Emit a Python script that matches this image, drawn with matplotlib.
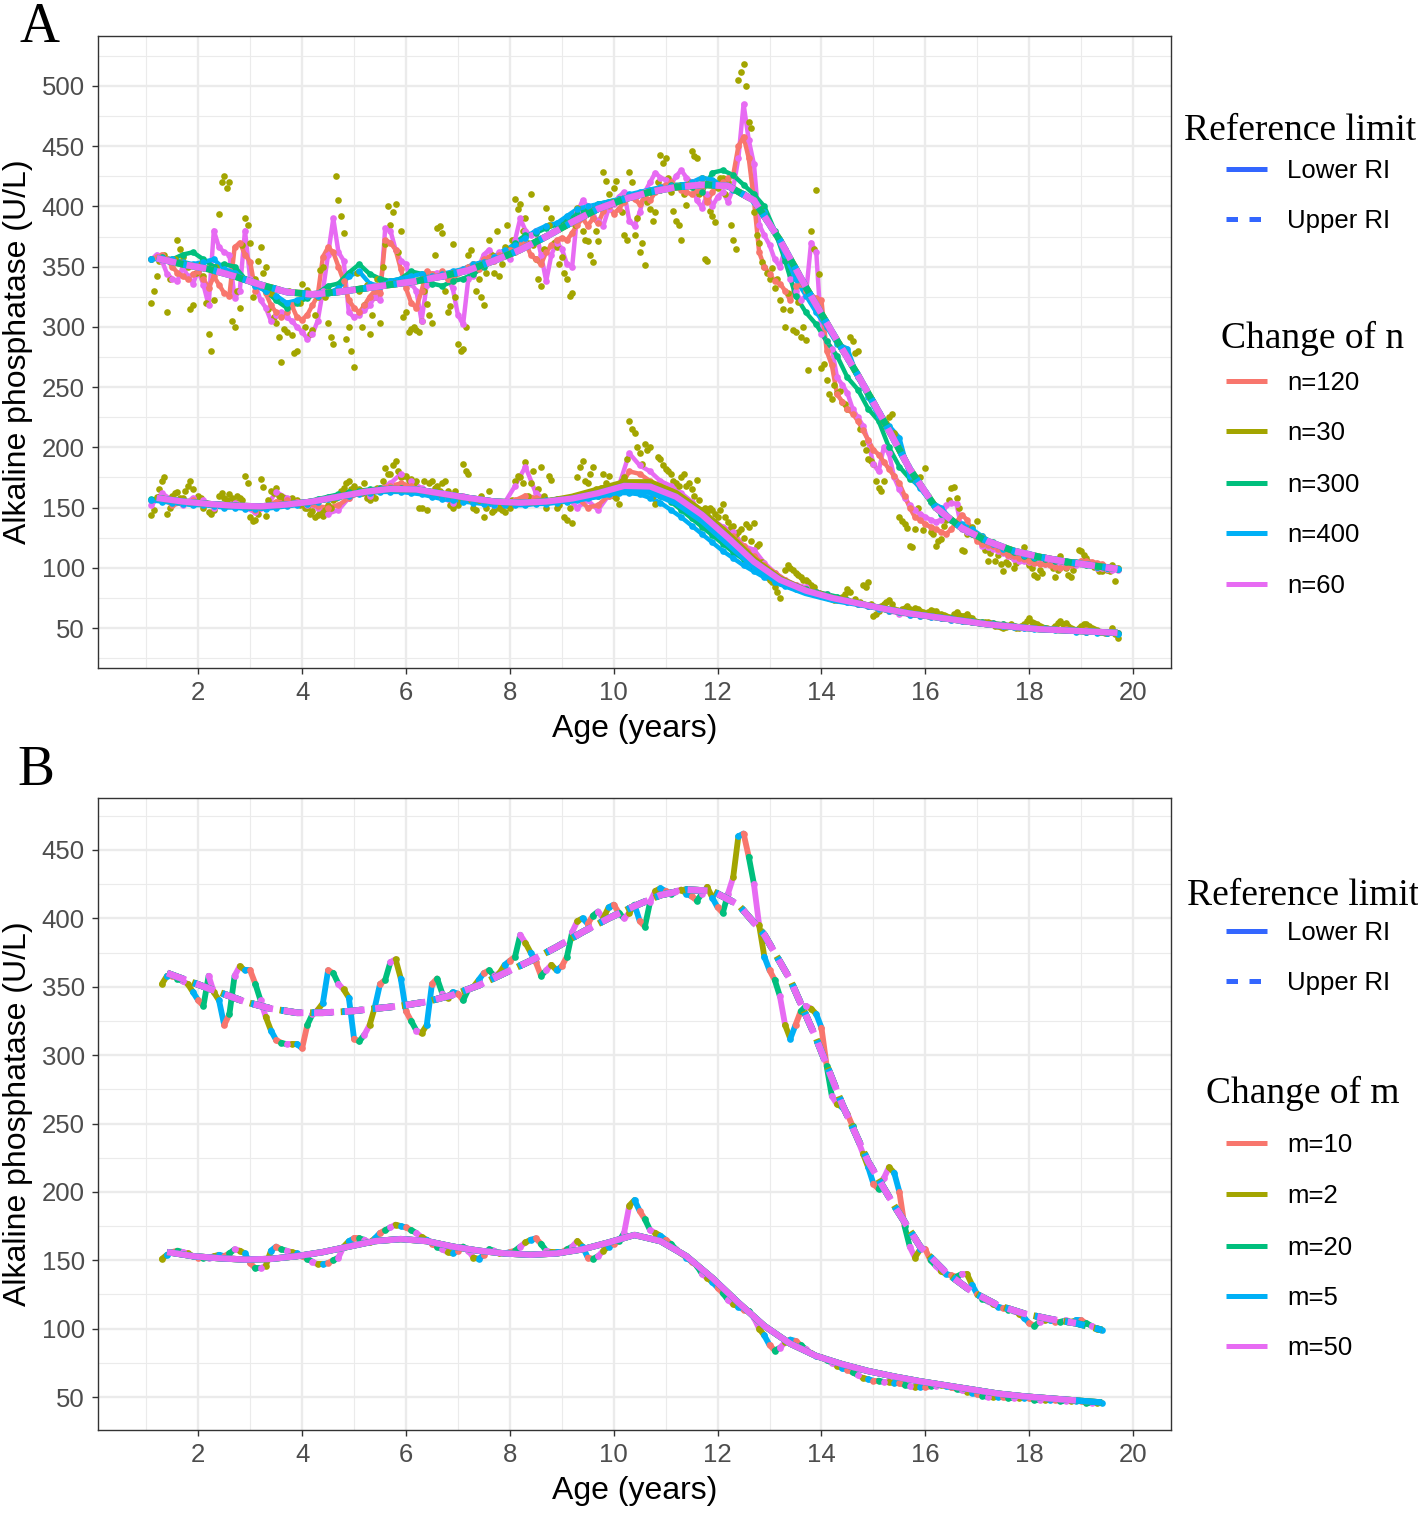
import numpy as np
import matplotlib
matplotlib.use("Agg")
import matplotlib.pyplot as plt
from matplotlib.lines import Line2D
from matplotlib.collections import LineCollection

SANS = ["Liberation Sans", "DejaVu Sans"]
SERIF = ["Liberation Serif", "DejaVu Serif"]
plt.rcParams["font.family"] = SANS

# legend order and default ggplot hue colours
SERIES_A = ["n=120", "n=30", "n=300", "n=400", "n=60"]
SERIES_B = ["m=10", "m=2", "m=20", "m=5", "m=50"]
COLORS = ["#F8766D", "#A3A500", "#00BF7D", "#00B0F6", "#E76BF3"]
RI_COLOR = "#3366FF"

# ---------------- panel A : point estimates ----------------
# fine series: ages 1.1, 1.2, ... 19.7 ; coarse series: ages 1.1, 1.3, ... 19.7
A_UP_N30 = [320, 342, 356, 312, 354, 372, 358, 350, 318, 348,
            342, 294, 322, 394, 425, 420, 300, 316, 390, 370,
            340, 366, 350, 328, 303, 271, 296, 293, 280, 336,
            331, 297, 325, 350, 303, 286, 405, 378, 300, 267,
            330, 318, 294, 325, 303, 369, 385, 402, 380, 312,
            298, 297, 305, 319, 303, 382, 378, 312, 369, 286,
            282, 360, 352, 340, 318, 372, 345, 342, 366, 364,
            406, 402, 390, 410, 356, 334, 399, 390, 366, 358,
            340, 328, 399, 380, 371, 354, 371, 429, 410, 415,
            406, 376, 429, 376, 362, 351, 398, 395, 443, 440,
            412, 388, 372, 401, 446, 440, 424, 355, 392, 415,
            424, 420, 372, 505, 518, 470, 395, 370, 350, 340,
            332, 322, 300, 314, 296, 292, 289, 380, 414, 266,
            256, 240, 245, 238, 232, 288, 280, 204, 190, 186,
            166, 172, 225, 212, 142, 136, 118, 132, 175, 183,
            130, 118, 124, 140, 166, 158, 115, 128, 134, 139,
            126, 106, 118, 111, 97, 103, 100, 108, 117, 102,
            94, 98, 106, 104, 92, 110, 100, 92, 104, 114,
            108, 103, 100, 97, 98, 102, 100]
# second set of n=30 estimates, ages 1.15, 1.25, ... 19.65
A_UP_N30_MID = [330, 355, 360, 340, 356, 365, 352, 315, 345, 352,
                320, 280, 350, 420, 415, 305, 330, 368, 385, 325,
                355, 345, 315, 308, 292, 298, 330, 278, 320, 300,
                294, 310, 347, 325, 292, 425, 392, 290, 280, 345,
                300, 335, 310, 340, 350, 400, 395, 362, 308, 296,
                300, 296, 330, 310, 360, 384, 330, 317, 325, 280,
                300, 364, 330, 325, 345, 360, 380, 352, 385, 372,
                398, 380, 370, 368, 340, 365, 385, 370, 352, 345,
                326, 385, 392, 372, 360, 380, 400, 421, 404, 421,
                395, 372, 420, 390, 370, 404, 388, 420, 436, 424,
                396, 385, 410, 420, 442, 410, 356, 396, 387, 424,
                410, 385, 365, 512, 500, 465, 376, 354, 345, 349,
                340, 315, 328, 297, 321, 300, 264, 365, 344, 269,
                244, 252, 247, 236, 292, 278, 215, 198, 189, 172,
                164, 220, 228, 208, 139, 133, 117, 150, 131, 160,
                128, 122, 135, 156, 167, 150, 114, 130, 128, 125,
                115, 112, 106, 103, 105, 110, 104, 112, 106, 100,
                92, 96, 108, 100, 98, 105, 94, 98, 115, 111,
                103, 101, 97, 99, 97, 89]
A_UP_N60 = [356, 360, 355, 344, 340, 338, 350, 342, 336, 347,
            335, 318, 380, 366, 362, 360, 324, 330, 380, 340,
            335, 322, 316, 305, 310, 312, 308, 305, 300, 296,
            290, 294, 305, 330, 360, 390, 362, 355, 312, 308,
            310, 314, 318, 325, 322, 382, 380, 364, 355, 352,
            336, 330, 305, 335, 344, 345, 342, 340, 332, 310,
            302, 340, 342, 350, 360, 364, 358, 362, 360, 356,
            372, 390, 380, 376, 380, 360, 338, 360, 370, 365,
            352, 350, 395, 405, 400, 392, 388, 384, 398, 402,
            408, 412, 388, 384, 395, 412, 420, 428, 424, 422,
            418, 425, 430, 424, 420, 405, 399, 410, 400, 408,
            412, 404, 415, 440, 485, 455, 435, 385, 376, 368,
            356, 350, 365, 340, 330, 322, 326, 370, 362, 294,
            288, 282, 258, 252, 245, 232, 225, 218, 205, 186,
            180, 200, 195, 175, 165, 158, 152, 148, 145, 142,
            140, 138, 140, 152, 154, 153, 132, 130, 128, 125,
            118, 117, 116, 114, 112, 110, 107, 106, 106, 105,
            104, 104, 103, 103, 104, 102, 104, 103, 102, 104,
            103, 102, 100, 100, 99, 98, 98]
A_UP_N120 = [356, 358, 360, 356, 350, 345, 342, 340, 344, 346,
             340, 332, 342, 335, 328, 326, 366, 370, 360, 354,
             330, 335, 328, 318, 312, 308, 312, 318, 308, 306,
             310, 318, 326, 358, 366, 362, 350, 338, 322, 316,
             312, 318, 325, 330, 328, 372, 370, 364, 348, 332,
             320, 316, 330, 346, 344, 342, 346, 340, 338, 345,
             348, 350, 352, 348, 356, 358, 355, 360, 362, 364,
             362, 368, 370, 360, 356, 352, 362, 368, 372, 374,
             372, 378, 385, 390, 384, 390, 386, 396, 400, 394,
             398, 404, 408, 406, 402, 408, 405, 412, 416, 418,
             420, 416, 414, 412, 410, 414, 416, 404, 412, 418,
             420, 424, 426, 450, 458, 440, 405, 362, 350, 344,
             338, 336, 330, 322, 334, 336, 330, 326, 324, 322,
             280, 268, 244, 238, 232, 228, 222, 214, 206, 198,
             194, 188, 182, 176, 170, 160, 150, 142, 140, 136,
             134, 132, 130, 128, 132, 138, 144, 140, 130, 122,
             120, 119, 118, 116, 113, 111, 110, 108, 107, 106,
             104, 103, 103, 102, 101, 100, 101, 102, 104, 106,
             106, 105, 104, 103, 101, 100, 99]
A_UP_N300 = [356, 358, 356, 360, 362, 356, 350, 352, 350, 340,
             335, 330, 322, 316, 320, 324, 328, 334, 336, 345,
             352, 344, 340, 338, 340, 346, 344, 336, 334, 338,
             340, 344, 350, 356, 360, 370, 376, 378, 382, 385,
             388, 394, 398, 402, 404, 406, 408, 410, 412, 414,
             418, 418, 416, 412, 428, 430, 426, 418, 410, 400,
             380, 355, 326, 312, 302, 288, 276, 258, 248, 232,
             222, 200, 184, 174, 168, 155, 145, 140, 134, 128,
             124, 121, 117, 113, 110, 108, 107, 106, 105, 104,
             102, 101, 100, 99]
A_UP_N400 = [356, 357, 356, 354, 352, 354, 356, 348, 345, 340,
             334, 330, 326, 320, 322, 326, 326, 328, 332, 342,
             346, 336, 334, 338, 340, 342, 344, 342, 344, 346,
             348, 352, 354, 358, 364, 368, 374, 380, 384, 386,
             392, 398, 400, 402, 404, 406, 410, 412, 414, 416,
             417, 418, 420, 424, 422, 418, 414, 410, 404, 395,
             378, 360, 340, 326, 312, 300, 286, 282, 258, 242,
             226, 218, 208, 176, 166, 155, 150, 140, 136, 132,
             126, 120, 116, 114, 111, 109, 108, 107, 106, 105,
             103, 101, 100, 99]

A_LO_N30 = [144, 159, 172, 145, 160, 163, 158, 168, 165, 160,
            150, 146, 148, 160, 158, 161, 155, 158, 176, 142,
            140, 174, 143, 164, 166, 160, 156, 158, 156, 154,
            150, 147, 144, 143, 152, 156, 160, 166, 172, 168,
            165, 170, 156, 158, 164, 183, 178, 189, 175, 176,
            174, 172, 150, 148, 172, 168, 170, 164, 150, 152,
            186, 178, 150, 156, 142, 164, 148, 150, 146, 150,
            172, 175, 188, 170, 156, 184, 150, 173, 150, 156,
            140, 137, 175, 189, 170, 184, 160, 178, 176, 160,
            153, 175, 222, 212, 195, 203, 200, 153, 190, 182,
            178, 170, 175, 168, 165, 173, 148, 146, 148, 142,
            153, 138, 135, 130, 125, 134, 137, 120, 100, 90,
            84, 75, 98, 100, 96, 92, 90, 86, 80, 78,
            76, 74, 73, 76, 82, 72, 70, 86, 88, 60,
            64, 70, 73, 66, 64, 67, 66, 67, 64, 62,
            65, 64, 62, 60, 58, 63, 60, 62, 58, 55,
            54, 55, 53, 52, 50, 52, 51, 50, 53, 58,
            54, 52, 50, 49, 52, 56, 54, 50, 48, 52,
            53, 50, 48, 47, 46, 50, 42]
A_LO_N30_MID = [148, 165, 175, 150, 162, 158, 164, 172, 155, 158,
                154, 145, 152, 162, 156, 158, 160, 156, 170, 139,
                145, 167, 156, 162, 160, 158, 155, 154, 152, 150,
                145, 142, 146, 148, 150, 158, 164, 170, 165, 164,
                162, 158, 160, 166, 172, 178, 185, 180, 176, 173,
                170, 150, 172, 170, 166, 164, 172, 152, 164, 156,
                180, 156, 148, 160, 150, 146, 152, 148, 152, 156,
                176, 170, 160, 180, 165, 160, 176, 156, 152, 142,
                150, 160, 184, 172, 178, 165, 166, 170, 168, 158,
                172, 190, 215, 200, 186, 198, 160, 192, 185, 180,
                172, 168, 178, 170, 160, 156, 150, 150, 145, 148,
                142, 134, 128, 132, 136, 122, 118, 105, 95, 88,
                80, 90, 102, 98, 94, 90, 88, 84, 79, 77,
                75, 73, 74, 78, 80, 74, 72, 84, 70, 62,
                68, 72, 70, 65, 66, 68, 65, 66, 63, 63,
                64, 62, 61, 59, 62, 61, 60, 59, 56, 54,
                55, 54, 52, 51, 51, 53, 50, 52, 56, 55,
                53, 51, 50, 50, 54, 53, 52, 49, 50, 53,
                52, 49, 47, 46, 47, 45]
A_LO_N60 = [152, 162, 156, 152, 158, 156, 150, 152, 154, 150,
            146, 150, 163, 158, 155, 152, 150, 145, 148, 158,
            162, 160, 166, 170, 178, 172, 166, 162, 158, 154,
            160, 156, 154, 152, 154, 168, 184, 162, 156, 155,
            158, 150, 156, 148, 160, 168, 195, 185, 180, 172,
            168, 162, 155, 146, 140, 134, 130, 118, 115, 104,
            96, 90, 86, 84, 80, 78, 75, 72, 70, 68,
            66, 64, 62, 61, 60, 59, 58, 57, 56, 55,
            54, 53, 52, 51, 50, 50, 49, 49, 48, 48,
            47, 47, 46, 46]
A_LO_N120 = [156, 158, 152, 154, 156, 154, 152, 151, 152, 150,
             148, 150, 155, 156, 155, 153, 151, 150, 152, 158,
             162, 164, 166, 168, 170, 168, 164, 162, 160, 158,
             157, 156, 155, 154, 154, 156, 160, 158, 156, 155,
             156, 158, 150, 152, 160, 165, 180, 178, 172, 168,
             164, 158, 150, 144, 138, 132, 126, 118, 110, 102,
             96, 90, 86, 82, 80, 77, 75, 73, 70, 68,
             66, 64, 63, 62, 61, 60, 59, 58, 57, 56,
             55, 54, 53, 52, 51, 50, 50, 49, 49, 48,
             48, 47, 47, 46]
A_LO_N300 = [157, 156, 155, 155, 154, 154, 153, 152, 152, 151,
             151, 151, 152, 153, 154, 155, 157, 159, 161, 163,
             164, 165, 166, 166, 166, 165, 164, 162, 160, 158,
             157, 156, 155, 154, 154, 154, 155, 155, 156, 157,
             158, 160, 162, 164, 166, 167, 167, 166, 164, 160,
             155, 148, 141, 134, 127, 120, 113, 107, 101, 96,
             92, 88, 85, 82, 80, 78, 76, 73, 71, 69,
             67, 65, 64, 62, 61, 60, 59, 58, 57, 56,
             55, 54, 53, 52, 51, 50, 50, 49, 48, 48,
             47, 47, 46, 46]
A_LO_N400 = [156, 155, 154, 153, 152, 152, 151, 150, 150, 149,
             149, 149, 150, 151, 152, 153, 155, 157, 159, 160,
             161, 162, 163, 163, 163, 162, 161, 159, 157, 156,
             155, 154, 153, 152, 152, 152, 152, 153, 153, 154,
             155, 156, 158, 160, 161, 162, 162, 161, 158, 154,
             148, 142, 135, 128, 121, 114, 108, 102, 97, 92,
             88, 85, 82, 80, 78, 76, 74, 72, 70, 68,
             66, 64, 63, 61, 60, 59, 58, 57, 56, 55,
             54, 53, 52, 51, 50, 49, 49, 48, 48, 47,
             47, 46, 46, 45]

# panel A smoothed limits, ages 1.2, 1.7, ... 19.7
A_UP_FIT = [357, 352, 348, 342, 335, 329, 327, 329, 332, 335,
            338, 342, 347, 355, 364, 375, 387, 398, 406, 412,
            416, 418, 417, 405, 372, 333, 296, 260, 222, 182,
            150, 133, 122, 114, 109, 105, 102, 99]
A_LO_FIT = [158, 155, 153, 151.5, 151, 152.5, 155, 159, 163, 165.5,
            165, 161.5, 158, 155, 154, 155, 157.5, 162, 168, 167.5,
            159, 144, 125, 105, 90, 81, 75, 70.5, 66, 62,
            59, 56, 53, 51, 49, 48, 47, 46]
A_LO_FIT_N30 = [158, 155, 153, 151.5, 151, 152.5, 155, 159, 163, 165.5,
                165, 161.5, 158, 155, 154, 155, 159, 165, 171, 171,
                162, 147, 128, 107, 91, 81, 75, 70.5, 66, 62,
                59, 56, 53, 51, 49, 48, 47, 46]
A_LO_FIT_N400 = [158, 155, 153, 151.5, 151, 152.5, 155, 159, 163, 165.5,
                 165, 161.5, 158, 155, 154, 155, 156, 159.5, 164, 163,
                 154, 139, 120, 101, 87, 79, 73.5, 70, 66, 62,
                 59, 56, 53, 51, 49, 48, 47, 46]

# ---------------- panel B ----------------
# point estimates (all m overlap), ages 1.3, 1.4, ... 19.4
B_UP_PTS = [352, 358, 358, 356, 354, 352, 346, 340, 336, 358,
            346, 340, 322, 330, 358, 365, 362, 362, 352, 340,
            328, 318, 311, 309, 308, 308, 308, 305, 322, 330,
            333, 338, 362, 360, 352, 348, 342, 312, 310, 315,
            322, 335, 352, 355, 368, 370, 356, 332, 325, 318,
            316, 322, 352, 356, 345, 342, 346, 345, 340, 348,
            350, 355, 360, 362, 358, 360, 366, 369, 372, 388,
            382, 375, 368, 358, 362, 366, 362, 365, 372, 390,
            398, 400, 396, 402, 405, 400, 408, 410, 404, 400,
            404, 410, 398, 394, 412, 420, 422, 420, 418, 420,
            421, 418, 416, 413, 418, 423, 415, 408, 404, 418,
            430, 460, 462, 445, 425, 395, 372, 362, 355, 343,
            322, 312, 322, 332, 336, 334, 330, 320, 292, 270,
            264, 262, 257, 248, 238, 228, 218, 206, 202, 210,
            218, 214, 200, 175, 160, 152, 158, 158, 150, 146,
            142, 140, 139, 138, 140, 140, 132, 125, 122, 120,
            118, 116, 115, 114, 113, 111, 108, 104, 102, 105,
            106, 106, 105, 105, 106, 105, 106, 106, 104, 102,
            100, 99]
B_LO_PTS = [151, 154, 156, 157, 156, 155, 153, 152, 152, 152,
            153, 154, 153, 155, 158, 157, 155, 148, 144, 144,
            146, 157, 160, 158, 157, 156, 155, 153, 151, 149,
            147, 147, 148, 150, 152, 160, 164, 166, 166, 165,
            163, 166, 170, 172, 174, 176, 175, 174, 172, 170,
            167, 165, 162, 160, 158, 156, 155, 157, 160, 157,
            152, 151, 154, 158, 157, 155, 155, 156, 157, 160,
            163, 165, 166, 162, 157, 156, 156, 156, 158, 160,
            164, 160, 152, 151, 153, 157, 160, 162, 164, 170,
            190, 194, 186, 180, 172, 170, 168, 165, 162, 158,
            155, 152, 149, 146, 140, 137, 134, 130, 126, 121,
            118, 116, 114, 113, 108, 100, 95, 88, 84, 86,
            90, 92, 91, 88, 85, 82, 80, 79, 77, 75,
            73, 71, 70, 68, 66, 64, 63, 62, 62, 61,
            61, 60, 60, 59, 58, 57, 57, 57, 58, 58,
            59, 58, 57, 56, 55, 54, 53, 52, 51, 50,
            50, 50, 50, 49, 49, 49, 49, 49, 48, 48,
            48, 48, 48, 47, 47, 47, 47, 47, 46, 46,
            46, 46]

# smoothed limits, ages 1.4, 1.9, ... 19.4
B_UP_FIT = [360, 353, 346, 339, 334, 331, 331, 332, 334, 336,
            339, 344, 351, 360, 369, 379, 390, 400, 409, 417,
            421, 420, 410, 388, 355, 312, 264, 222, 190, 160,
            141, 127, 117, 111, 107, 104, 99]
B_LO_FIT = [156, 153, 151.5, 150.5, 151, 153, 156, 160, 164, 165.5,
            164, 160, 157, 155, 154, 155, 158, 163, 168.5, 164,
            153, 137, 119, 102, 89, 80, 74, 69, 65, 61.5,
            58.5, 55.5, 52.5, 50.5, 49, 47.5, 46]
B_FIT_END = [19.4, 19.4, 19.4, 19.4, 18.9]   # last age of each m fit


def age_grid(start, step, n):
    return np.round(start + step * np.arange(n), 2)


W, H = 1418, 1513
fig = plt.figure(figsize=(W / 100, H / 100), dpi=100)
axA = fig.add_axes([98 / W, 1 - 668 / H, 1073 / W, 632 / H])
axB = fig.add_axes([98 / W, 1 - 1430 / H, 1073 / W, 632 / H])


def style_axes(ax, ylim, yticks, yminor):
    ax.set_xlim(0.07, 20.73)
    ax.set_ylim(*ylim)
    ax.set_xticks(np.arange(2, 21, 2))
    ax.set_xticks(np.arange(1, 21, 2), minor=True)
    ax.set_yticks(yticks)
    ax.set_yticks(yminor, minor=True)
    ax.set_axisbelow(True)
    ax.grid(which="major", color="#EBEBEB", lw=1.7)
    ax.grid(which="minor", color="#EBEBEB", lw=0.8)
    ax.tick_params(which="major", length=4.5, width=1.0, color="#333333",
                   labelsize=18.5, labelcolor="#4D4D4D", pad=5)
    ax.tick_params(which="minor", length=0)
    for s in ax.spines.values():
        s.set_color("#333333")
        s.set_linewidth(1.0)
    ax.set_xlabel("Age (years)", fontsize=23, labelpad=6)
    ax.set_ylabel("Alkaline phosphatase (U/L)", fontsize=23, labelpad=6)


DOT = dict(marker="o", ls="none", ms=4.8, mew=0, zorder=2)
DASH = (3.0, 1.6)

# ---- panel A ----
a_up = [A_UP_N120, A_UP_N30, A_UP_N300, A_UP_N400, A_UP_N60]
a_lo = [A_LO_N120, A_LO_N30, A_LO_N300, A_LO_N400, A_LO_N60]
# points drawn in numeric n order: 30, 60, 120, 300, 400
for k in [1, 4, 0, 2, 3]:
    for vals in (a_up[k], a_lo[k]):
        step = 0.1 if len(vals) > 120 else 0.2
        ages = age_grid(1.1, step, len(vals))
        if k != 1:
            # dense estimates of the larger n run together into a band
            axA.plot(ages, vals, color=COLORS[k], lw=3.2, zorder=1.9,
                     solid_joinstyle="round", solid_capstyle="round")
        axA.plot(ages, vals, color=COLORS[k], **DOT)
    if k == 1:
        for vals in (A_UP_N30_MID, A_LO_N30_MID):
            axA.plot(age_grid(1.15, 0.1, len(vals)), vals, color=COLORS[k], **DOT)

a_fit_age = age_grid(1.2, 0.5, len(A_UP_FIT))
a_lo_fits = [A_LO_FIT, A_LO_FIT_N30, A_LO_FIT, A_LO_FIT_N400, A_LO_FIT]
a_dash_off = [1.0, 2.0, 2.8, 0.5, 0.0]
for k in range(5):
    axA.plot(a_fit_age, a_lo_fits[k], color=COLORS[k], lw=4.5,
             solid_capstyle="butt", zorder=3 + k)
    axA.plot(a_fit_age, A_UP_FIT, color=COLORS[k], lw=4.8,
             ls=(a_dash_off[k], DASH), zorder=3 + k)

style_axes(axA, (16.8, 541.5), np.arange(50, 501, 50), np.arange(25, 526, 50))

# ---- panel B ----
b_pt_age = age_grid(1.3, 0.1, len(B_UP_PTS))
b_order = [1, 3, 0, 2, 4]   # m = 2, 5, 10, 20, 50
for vals in (np.array(B_UP_PTS), np.array(B_LO_PTS)):
    pts = np.column_stack([b_pt_age, vals])
    segs = np.stack([pts[:-1], pts[1:]], axis=1)
    seg_cols = [COLORS[b_order[i % 5]] for i in range(len(segs))]
    axB.add_collection(LineCollection(segs, colors=seg_cols, linewidths=4.2,
                                      capstyle="round", zorder=1.9))
    for j, k in enumerate(b_order):
        axB.plot(b_pt_age[j::5], vals[j::5], color=COLORS[k], **DOT)

b_fit_age = age_grid(1.4, 0.5, len(B_UP_FIT))
b_dash_off = [0.3, 0.6, 0.2, 0.4, 0.0]
for k in range(5):
    keep = b_fit_age <= B_FIT_END[k] + 1e-9
    axB.plot(b_fit_age[keep], np.array(B_LO_FIT)[keep], color=COLORS[k], lw=4.5,
             solid_capstyle="butt", zorder=3 + k)
    axB.plot(b_fit_age[keep], np.array(B_UP_FIT)[keep], color=COLORS[k], lw=4.8,
             ls=(b_dash_off[k], DASH), zorder=3 + k)

style_axes(axB, (25.9, 488), np.arange(50, 451, 50), np.arange(75, 476, 50))


# ---- legends, drawn in figure pixel positions ----
def fx(px):
    return px / W


def fy(py):
    return 1 - py / H


def key(y, color, dashed=False):
    ln = Line2D([fx(1226), fx(1267)], [fy(y), fy(y)], transform=fig.transFigure,
                color=color, lw=3.6, solid_capstyle="butt")
    if dashed:
        ln.set_linestyle((0, (2.3, 2.3)))
    fig.add_artist(ln)


def legend_block(ref_title, ref_keys, grp_title, grp_keys, names):
    fig.text(fx(ref_title[0]), fy(ref_title[1]), "Reference limit",
             family=SERIF, fontsize=27, va="baseline")
    for (yc, yb), lab, dashed in zip(ref_keys, ["Lower RI", "Upper RI"], [False, True]):
        key(yc, RI_COLOR, dashed)
        fig.text(fx(1287), fy(yb), lab, fontsize=18.5, va="baseline")
    fig.text(fx(grp_title[0]), fy(grp_title[1]), grp_title[2],
             family=SERIF, fontsize=27, va="baseline")
    for (yc, yb), lab, col in zip(grp_keys, names, COLORS):
        key(yc, col)
        fig.text(fx(1287), fy(yb), lab, fontsize=18.5, va="baseline")


legend_block((1184, 140), [(169, 178), (219, 228)],
             (1221, 348, "Change of n"),
             [(381, 390), (431, 440), (483, 492), (533, 542), (584, 593)], SERIES_A)
legend_block((1187, 905), [(931, 940), (981, 990)],
             (1206, 1103, "Change of m"),
             [(1143, 1152), (1194, 1203), (1246, 1255), (1296, 1305), (1346, 1355)], SERIES_B)

# panel letters
fig.text(fx(20), fy(42), "A", family=SERIF, fontsize=40, va="baseline")
fig.text(fx(17), fy(785), "B", family=SERIF, fontsize=40, va="baseline")

fig.savefig("out.png", dpi=100)
